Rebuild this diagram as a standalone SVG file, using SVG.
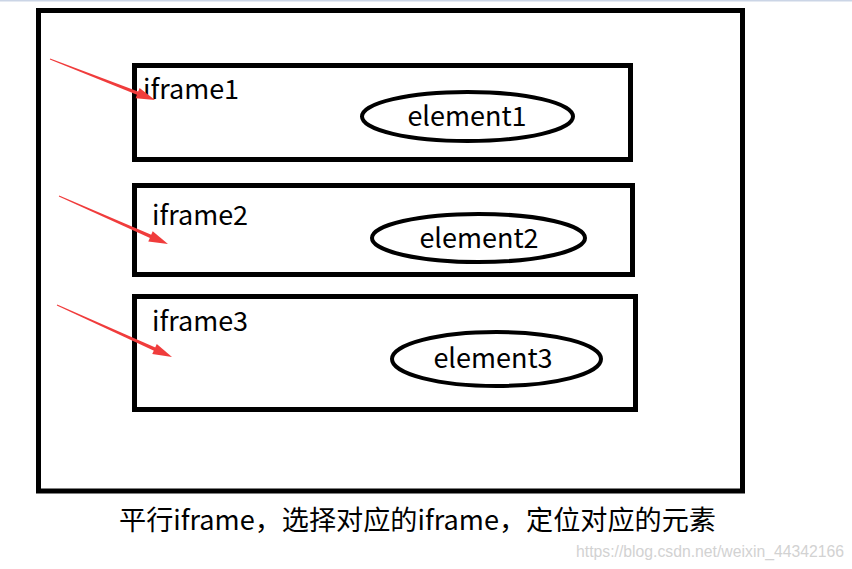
<svg xmlns="http://www.w3.org/2000/svg" width="852" height="569" viewBox="0 0 852 569">
<style>
.box{fill:none;stroke:#000;stroke-width:5}
.ell{fill:none;stroke:#000;stroke-width:4}
.lbl{font-family:"Noto Sans CJK SC","Noto Sans",sans-serif;font-size:27px;fill:#000}
.mid{text-anchor:middle}
.arrow{fill:#f03c3c;stroke:none}
.wm{font-family:"Liberation Sans",sans-serif;font-size:16px;fill:#d2d2d2}
</style>
<rect x="0" y="0" width="852" height="569" fill="#fff"/>
<rect x="0" y="0" width="852" height="1.5" fill="#cbd5e6"/>
<g id="page">
<rect class="box" x="38.5" y="10.5" width="704" height="480.5"/>
</g>
<g id="iframe1">
<rect class="box" x="134.5" y="65.5" width="496" height="94"/>
<text class="lbl" x="143" y="99">iframe1</text>
</g>
<g id="element1">
<ellipse class="ell" cx="467.5" cy="116.5" rx="105.5" ry="24.5"/>
<text class="lbl mid" x="467" y="126">element1</text>
</g>
<g id="iframe2">
<rect class="box" x="134.5" y="185.5" width="498" height="89"/>
<text class="lbl" x="152" y="225">iframe2</text>
</g>
<g id="element2">
<ellipse class="ell" cx="478.5" cy="238" rx="106.5" ry="24"/>
<text class="lbl mid" x="479" y="248">element2</text>
</g>
<g id="iframe3">
<rect class="box" x="134.5" y="296.5" width="501" height="113"/>
<text class="lbl" x="152" y="331">iframe3</text>
</g>
<g id="element3">
<ellipse class="ell" cx="496.5" cy="359" rx="104.5" ry="27"/>
<text class="lbl mid" x="493" y="368">element3</text>
</g>
<g id="connectors">
<g transform="translate(50,59) rotate(21.3)">
<path class="arrow" d="M0,-0.5 L96,-1.8 L96,1.8 L0,0.5 Z"/>
<path class="arrow" d="M94,-5.5 L112.7,0 L94,5.5 Z"/>
</g>
<g transform="translate(59,196) rotate(23.8)">
<path class="arrow" d="M0,-0.5 L102,-1.8 L102,1.8 L0,0.5 Z"/>
<path class="arrow" d="M100,-5.5 L119.1,0 L100,5.5 Z"/>
</g>
<g transform="translate(57,305) rotate(24.3)">
<path class="arrow" d="M0,-0.5 L109,-1.8 L109,1.8 L0,0.5 Z"/>
<path class="arrow" d="M107,-5.5 L126.2,0 L107,5.5 Z"/>
</g>
</g>
<g id="caption">
<text class="lbl" x="119" y="530" textLength="597" lengthAdjust="spacingAndGlyphs">平行iframe，选择对应的iframe，定位对应的元素</text>
</g>
<text class="wm" x="576" y="557" textLength="268" lengthAdjust="spacingAndGlyphs">https://blog.csdn.net/weixin_44342166</text>
</svg>
